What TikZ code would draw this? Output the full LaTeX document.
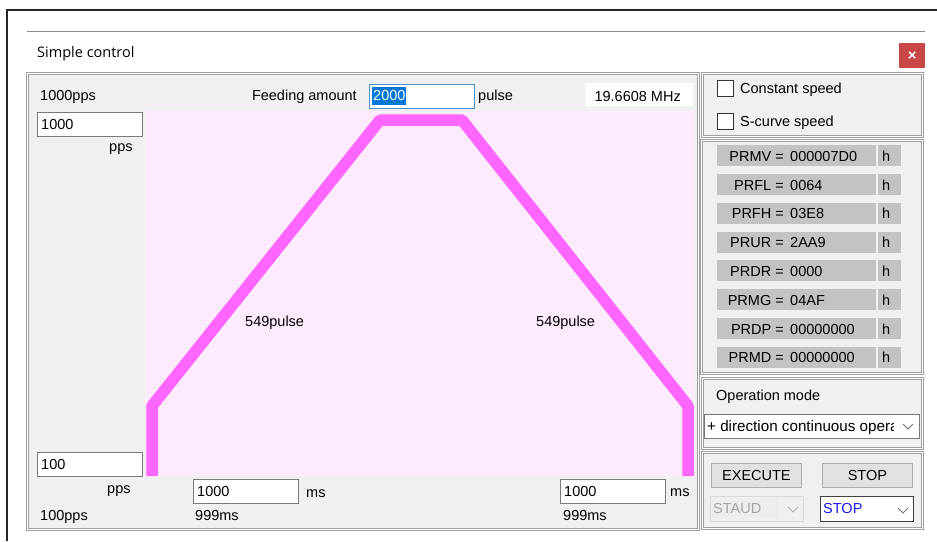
\documentclass[tikz,border=0pt]{standalone}
\usepackage{fontspec}
\setmainfont{Liberation Sans}
\newfontfamily\titlefont{Open Sans}
\definecolor{panelbg}{HTML}{F0F0F0}
\definecolor{panelline}{HTML}{A0A0A0}
\definecolor{plotbg}{HTML}{FDEBFD}
\definecolor{curve}{HTML}{FF66FF}
\definecolor{regbg}{HTML}{C3C3C3}
\definecolor{fieldline}{HTML}{7A7A7A}
\definecolor{selblue}{HTML}{0078D7}
\definecolor{focusblue}{HTML}{4A90D0}
\definecolor{closered}{HTML}{C84848}
\definecolor{btnbg}{HTML}{E1E1E1}
\definecolor{btnline}{HTML}{ADADAD}
\definecolor{disabled}{HTML}{A6A6A6}
\definecolor{stopblue}{HTML}{1A1AE6}
\tikzset{
  ui/.style={font=\fontsize{14.5}{16}\selectfont, inner sep=0pt, text=black},
  lbl/.style={ui, anchor=base west},
  panelbox/.style={draw=panelline, fill=panelbg, line width=1.2pt, inner sep=0pt, anchor=north west, double=white, double distance=0.6pt},
  fieldbox/.style={draw=fieldline, fill=white, line width=0.8pt, inner sep=0pt, anchor=north west},
  regbar/.style={fill=regbg, inner sep=0pt, anchor=north west, minimum height=21pt},
  checkbox/.style={draw=black!80, fill=white, line width=0.8pt, inner sep=0pt, anchor=north west, minimum width=16pt, minimum height=16pt},
  btnbox/.style={draw=btnline, fill=btnbg, line width=0.8pt, inner sep=0pt, anchor=north west, minimum width=90pt, minimum height=24pt},
  chev/.style={draw=black!55, line width=0.8pt},
}
\begin{document}
\begin{tikzpicture}[x=1pt,y=-1pt]
\useasboundingbox[fill=white] (0,0) rectangle (937,541);
% outer window frame
\coordinate (fr1) at (7,541);
\coordinate (fr2) at (7,10);
\coordinate (fr3) at (937,10);
\draw[line width=1.8pt, black!85] (fr1) -- (fr2) -- (fr3);
\coordinate (gl1) at (27,31);
\coordinate (gl2) at (925,31);
\draw[line width=0.8pt, black!45] (gl1) -- (gl2);
% title and close
\node[anchor=base west, inner sep=0pt, font=\titlefont\fontsize{14.5}{16}\selectfont] (title) at (37,57) {Simple control};
\node[fill=closered, minimum width=26pt, minimum height=25pt, inner sep=0pt, anchor=north west] (close) at (899,43) {};
\node[text=white, font=\bfseries\fontsize{15}{15}\selectfont, inner sep=0pt] (closex) at (close.center) {×};

% left main panel
\node[panelbox, minimum width=671pt, minimum height=456pt] (mainpanel) at (27,73) {};
\node[fill=plotbg, inner sep=0pt, anchor=north west, minimum width=549pt, minimum height=365pt] (plot) at (145,111) {};
\coordinate (p1) at (152,476);
\coordinate (p2) at (152,406);
\coordinate (p3) at (380,120);
\coordinate (p4) at (462,120);
\coordinate (p5) at (688,406);
\coordinate (p6) at (688,476);
\draw[curve, line width=11.5pt, line join=bevel] (p1) -- (p2) -- (p3) -- (p4) -- (p5) -- (p6);
\node[lbl] (pl1) at (245,326) {549pulse};
\node[lbl] (pl2) at (536,326) {549pulse};

\node[lbl] (maxpps) at (40,100) {1000pps};
\node[ui, anchor=base east] (feed) at (357,100) {Feeding amount};
\node[fieldbox, draw=focusblue, line width=1pt, minimum width=105pt, minimum height=24pt] (feedbox) at (369,84) {};
\node[fill=selblue, inner sep=0pt, anchor=north west, minimum width=34pt, minimum height=18pt] (sel) at (372,87) {};
\node[lbl, text=white] (feedval) at (373,100) {2000};
\node[lbl] (pulse) at (478,100) {pulse};
\node[fill=white, inner sep=0pt, anchor=north west, minimum width=108pt, minimum height=23pt] (mhzbox) at (585,83) {};
\node[ui, anchor=base east] (mhz) at (681,101) {19.6608 MHz};

\node[fieldbox, minimum width=105pt, minimum height=24pt] (fmax) at (37,112) {};
\node[lbl] (fmaxv) at (41,129) {1000};
\node[lbl] (pps1) at (109,151) {pps};

\node[fieldbox, minimum width=105pt, minimum height=24pt] (fmin) at (37,452) {};
\node[lbl] (fminv) at (41,469) {100};
\node[lbl] (pps2) at (107,493) {pps};
\node[lbl] (minpps) at (40,520) {100pps};

\node[fieldbox, minimum width=105pt, minimum height=24pt] (facc) at (193,479) {};
\node[lbl] (faccv) at (197,496) {1000};
\node[lbl] (ms1) at (306,497) {ms};
\node[lbl] (acc) at (195,520) {999ms};

\node[fieldbox, minimum width=105pt, minimum height=24pt] (fdec) at (560,479) {};
\node[lbl] (fdecv) at (564,496) {1000};
\node[lbl] (ms2) at (670,496) {ms};
\node[lbl] (dec) at (563,520) {999ms};

% right panel 1: checkboxes
\node[panelbox, minimum width=220pt, minimum height=63pt] (rp1) at (702,73) {};
\node[checkbox] (cb1) at (717,80) {};
\node[lbl] (cbl1) at (740,93) {Constant speed};
\node[checkbox] (cb2) at (717,113) {};
\node[lbl] (cbl2) at (740,126) {S-curve speed};

% right panel 2: registers
\node[panelbox, minimum width=221pt, minimum height=233pt] (rp2) at (701,140) {};
\foreach \nm/\val [count=\i from 0] in {PRMV/000007D0, PRFL/0064, PRFH/03E8, PRUR/2AA9, PRDR/0000, PRMG/04AF, PRDP/00000000, PRMD/00000000}{
  \pgfmathsetmacro{\yy}{145+\i*28.8}
  \node[regbar, minimum width=159pt] (bar\i) at (717,\yy) {};
  \node[regbar, minimum width=23pt] (hb\i) at (878,\yy) {};
  \node[ui, anchor=base east] (rn\i) at ([yshift=-5.5pt]bar\i.center -| 784,0) {\nm\ =};
  \node[lbl] (rv\i) at ([yshift=-5.5pt]bar\i.center -| 790,0) {\val};
  \node[lbl] (rh\i) at ([yshift=-5.5pt]hb\i.center -| 882,0) {h};
}

% right panel 3: operation mode
\node[panelbox, minimum width=220pt, minimum height=70pt] (rp3) at (702,378) {};
\node[lbl] (opm) at (716,400) {Operation mode};
\node[fieldbox, minimum width=215pt, minimum height=24pt] (opbox) at (704,414) {};
\begin{scope}
  \clip (706,415) rectangle (893,437);
  \node[lbl, font=\fontsize{15.2}{16}\selectfont] (optext) at (707,431) {+ direction continuous operation};
\end{scope}
\coordinate (c1a) at (903,424);
\coordinate (c1b) at (908,429);
\coordinate (c1c) at (913,424);
\draw[chev] (c1a) -- (c1b) -- (c1c);

% right panel 4: execute / stop
\node[panelbox, minimum width=220pt, minimum height=76pt] (rp4) at (702,452) {};
\node[btnbox] (exec) at (711,463) {};
\node[ui, anchor=base] (exect) at ([yshift=-5.5pt]exec.center) {EXECUTE};
\node[btnbox] (stopb) at (822,463) {};
\node[ui, anchor=base] (stopt) at ([yshift=-5.5pt]stopb.center) {STOP};
\node[fieldbox, draw=black!15, fill=panelbg, minimum width=93pt, minimum height=25pt] (staud) at (710,496) {};
\node[fill=black!7, inner sep=0pt, anchor=north west, minimum width=66pt, minimum height=19pt] (staudsel) at (712,499) {};
\node[lbl, text=disabled] (staudt) at (713,513) {STAUD};
\coordinate (c2a) at (788,507);
\coordinate (c2b) at (793,512);
\coordinate (c2c) at (798,507);
\draw[chev, draw=black!30] (c2a) -- (c2b) -- (c2c);
\node[fieldbox, draw=black!75, minimum width=93pt, minimum height=25pt] (stopdd) at (820,496) {};
\node[lbl, text=stopblue] (stopddt) at (823,513) {STOP};
\coordinate (c3a) at (898,508);
\coordinate (c3b) at (903,513);
\coordinate (c3c) at (908,508);
\draw[chev] (c3a) -- (c3b) -- (c3c);
\end{tikzpicture}
\end{document}
